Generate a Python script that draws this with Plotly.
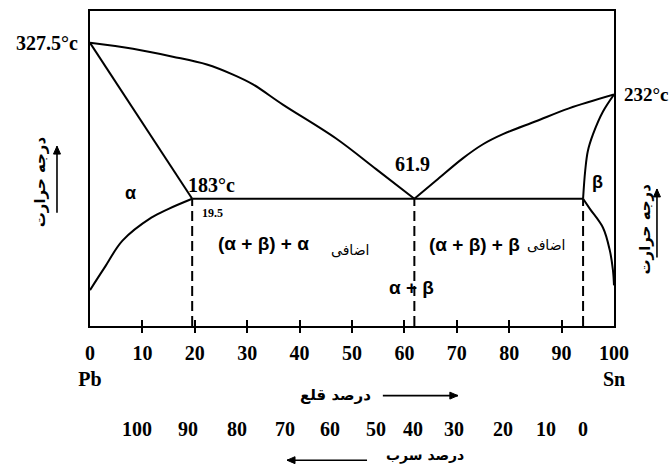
import plotly.graph_objects as go

# ---- data (composition % Sn, schematic temperature level 0-100) ----
liq_left_comp = [0, 8.2, 15.8, 22.3, 27.3, 31.1, 36.8, 46.9, 54.6, 61.9]
liq_left_lev = [89.9, 88.0, 85.5, 83.0, 79.8, 76.7, 70.3, 59.6, 49.8, 40.4]

sol_alpha_comp = [0, 19.5]
sol_alpha_lev = [89.9, 40.4]

solvus_alpha_comp = [0, 2.8, 6.2, 11.7, 15.0, 19.5]
solvus_alpha_lev = [11.4, 18.6, 27.1, 34.4, 37.2, 40.4]

eutectic_comp = [19.5, 94.1]
eutectic_lev = [40.4, 40.4]

liq_right_comp = [61.9, 66.0, 71.2, 75.0, 78.8, 85.1, 91.4, 100]
liq_right_lev = [40.4, 46.1, 53.3, 57.7, 60.9, 65.0, 69.1, 73.5]

sol_beta_comp = [100, 97.9, 96.0, 95.0, 94.5, 94.1]
sol_beta_lev = [73.5, 68.1, 60.9, 55.5, 49.2, 40.4]

solvus_beta_comp = [94.1, 95.4, 97.9, 99.2, 99.8, 100]
solvus_beta_lev = [40.4, 37.2, 31.2, 24.0, 17.7, 12.9]

dashed_comp = [19.5, 61.9, 94.1]
dashed_top = 40.4

sn_ticks = [0, 10, 20, 30, 40, 50, 60, 70, 80, 90, 100]
sn_ticktext = ["0<br>Pb", "10", "20", "30", "40", "50", "60", "70", "80", "90", "100<br>Sn"]
minor_ticks = [10, 20, 30, 40, 50, 60, 70, 80, 90]
pb_labels = ["100", "90", "80", "70", "60", "50", "40", "30", "20", "10", "0"]

# ---- styling ----
SERIF = "Liberation Serif"
SANS = "Liberation Sans"
FA = "DejaVu Sans"
LW = 2

fig = go.Figure()

def curve(xs, ys, shape="spline", dash="solid"):
    fig.add_trace(go.Scatter(x=xs, y=ys, mode="lines",
                             line=dict(color="black", width=LW, shape=shape, dash=dash),
                             hoverinfo="skip", showlegend=False))

curve(liq_left_comp, liq_left_lev)
curve(sol_alpha_comp, sol_alpha_lev, shape="linear")
curve(solvus_alpha_comp, solvus_alpha_lev)
curve(eutectic_comp, eutectic_lev, shape="linear")
curve(liq_right_comp, liq_right_lev)
curve(sol_beta_comp, sol_beta_lev)
curve(solvus_beta_comp, solvus_beta_lev)
for c in dashed_comp:
    curve([c, c], [0, dashed_top], shape="linear", dash="10px,5px")

# dummy traces for tick-mark axes
fig.add_trace(go.Scatter(x=[None], y=[None], xaxis="x2", showlegend=False, hoverinfo="skip"))
fig.add_trace(go.Scatter(x=[None], y=[None], xaxis="x3", showlegend=False, hoverinfo="skip"))

ann = []
shapes = []

# positions below are given in axis units (0-100) and placed via paper refs
def txt(x, y, s, size=19, family=SERIF, xanchor="center", angle=0, bold=True):
    ann.append(dict(x=x / 100, y=y / 100, xref="paper", yref="paper", text=s,
                    showarrow=False, xanchor=xanchor, yanchor="middle",
                    textangle=angle,
                    font=dict(family=family, size=size, color="black",
                              weight="bold" if bold else "normal")))

PLOT_W, PLOT_H = 524.0, 317.0   # plot area size in px (for arrow decorations)

def arrow(x, y, dx_px, dy_px):
    """Arrow decoration: head at (x, y) in axis units (0-100), tail offset in px
    (dx right, dy down), drawn as paper-referenced shapes."""
    hx, hy = x / 100, y / 100
    tx, ty = hx + dx_px / PLOT_W, hy - dy_px / PLOT_H
    shapes.append(dict(type="line", xref="paper", yref="paper",
                       x0=tx, y0=ty, x1=hx, y1=hy,
                       line=dict(color="black", width=1.6)))
    L, W = 8.0, 3.5
    length = (dx_px ** 2 + dy_px ** 2) ** 0.5
    ux, uy = dx_px / length, dy_px / length
    bx, by = ux * L, uy * L
    px_, py_ = -uy * W, ux * W
    p1 = (hx + (bx + px_) / PLOT_W, hy - (by + py_) / PLOT_H)
    p2 = (hx + (bx - px_) / PLOT_W, hy - (by - py_) / PLOT_H)
    path = f"M {hx},{hy} L {p1[0]},{p1[1]} L {p2[0]},{p2[1]} Z"
    shapes.append(dict(type="path", xref="paper", yref="paper", path=path,
                       fillcolor="black", line=dict(color="black", width=1)))

txt(-1.9, 89.9, "327.5°c", size=20, xanchor="right")
txt(18.4, 44.8, "183°c", size=20, xanchor="left")
txt(21.0, 36.0, "19.5", size=12, xanchor="left")
txt(7.8, 42.3, "α", size=18, family=SANS)
txt(61.6, 51.4, "61.9", size=20)
txt(101.5, 73.5, "232°c", size=19, xanchor="left")
txt(96.9, 45.7, "β", size=18, family=SANS)
txt(24.0, 26.2, "(α + β) + α", size=19, family=SANS, xanchor="left")
txt(49.6, 24.0, "اضافی", size=14, family=FA, bold=False)
txt(64.3, 25.9, "(α + β) + β", size=19, family=SANS, xanchor="left")
txt(87.0, 25.6, "اضافی", size=14, family=FA, bold=False)
txt(61.3, 12.3, "α + β", size=19, family=SANS)

# axis titles (Persian) with arrows
txt(-9.5, 45.7, "درجه حرارت", size=15, family=FA, angle=-90)
arrow(-6.3, 57.1, 0, 67)
txt(105.9, 30.9, "درجه حرارت", size=15, family=FA, angle=-90)
arrow(108.2, 43.5, 0, 69)

txt(46.9, -21.8, "درصد قلع", size=15, family=FA)
arrow(70.2, -22.1, -75, 0)

pb_x = [9.0, 18.7, 28.1, 37.2, 45.8, 54.6, 61.6, 69.5, 78.8, 87.0, 94.1]
for xv, s in zip(pb_x, pb_labels):
    txt(xv, -32.8, s, size=20)

txt(63.9, -41.2, "درصد سرب", size=14, family=FA)
arrow(37.6, -42.6, 80, 0)

fig.update_layout(
    width=672, height=472,
    margin=dict(l=90, r=58, t=9, b=146),
    paper_bgcolor="white", plot_bgcolor="white",
    showlegend=False,
    annotations=ann,
    shapes=shapes,
    xaxis=dict(range=[0, 100], showgrid=False, zeroline=False,
               showline=True, mirror=True, linecolor="black", linewidth=LW,
               tickmode="array", tickvals=sn_ticks, ticktext=sn_ticktext,
               ticks="", ticklabelstandoff=8,
               tickfont=dict(family=SERIF, size=20, color="black", weight="bold")),
    xaxis2=dict(range=[0, 100], overlaying="x", anchor="y", side="bottom",
                showgrid=False, zeroline=False, showline=False,
                tickmode="array", tickvals=minor_ticks, showticklabels=False,
                ticks="outside", ticklen=6, tickwidth=LW, tickcolor="black"),
    xaxis3=dict(range=[0, 100], overlaying="x", anchor="y", side="bottom",
                showgrid=False, zeroline=False, showline=False,
                tickmode="array", tickvals=minor_ticks, showticklabels=False,
                ticks="inside", ticklen=6, tickwidth=LW, tickcolor="black"),
    yaxis=dict(range=[0, 100], showgrid=False, zeroline=False,
               showline=True, mirror=True, linecolor="black", linewidth=LW,
               showticklabels=False, ticks=""),
)

# remove the browser's default body margin so the 672x472 figure fills the window
fig.write_html("out.html", config={"displayModeBar": False},
               post_script="document.body.style.margin='0';document.body.style.overflow='hidden';")
